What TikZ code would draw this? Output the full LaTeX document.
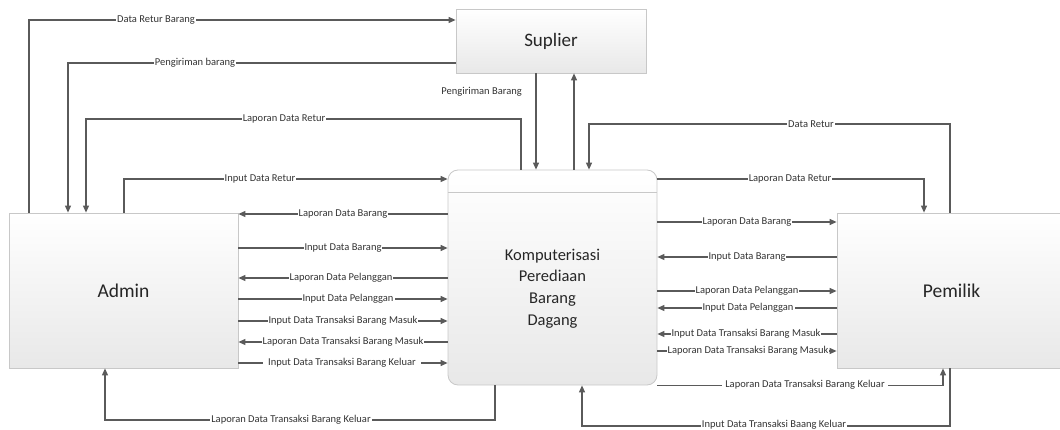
\documentclass[tikz,border=0pt]{standalone}
\usepackage{fontspec}
\setmainfont{Carlito}
\usetikzlibrary{arrows.meta}
\definecolor{ln}{HTML}{5A5A5A}
\definecolor{bd}{HTML}{C8C8C8}
\tikzset{
  ent/.style={draw=bd, line width=0.8pt, top color=white, bottom color=black!9, inner sep=0pt, text=black!85},
  flow/.style={draw=ln, line width=1.1pt, -{Triangle[length=7pt,width=6pt]}},
  plain/.style={draw=ln, line width=1.1pt},
  lbl/.style={fill=white, inner xsep=1pt, inner ysep=0.5pt, text=black!80, font=\fontsize{10.5}{12}\selectfont},
}
\begin{document}
\begin{tikzpicture}[x=1pt,y=-1pt]
\useasboundingbox (0,0) rectangle (1060,430);
% entities
\node[ent, minimum width=190, minimum height=64, font=\fontsize{19}{22}\selectfont] (sup) at (551,41) {Suplier};
\node[ent, minimum width=229, minimum height=155, font=\fontsize{19.5}{22}\selectfont] (admin) at (123.5,290.5) {Admin};
\node[ent, minimum width=229, minimum height=155, font=\fontsize{19.5}{22}\selectfont] (pem) at (951.5,290.5) {Pemilik};
\node[ent, rounded corners=10pt, minimum width=209, minimum height=215] (proc) at (552.5,277.5) {};
\draw[bd, line width=0.8pt] (proc.north west |- 0,192) -- (proc.north east |- 0,192);
\node[align=center, font=\fontsize{16.5}{21.7}\selectfont, text=black!85] (ptxt) at (552.5,288.5) {Komputerisasi\\Perediaan\\Barang\\Dagang};

% top-left flows
\draw[flow] (admin.north -| 29,0) |- (sup.west |- 0,20);
\node[lbl] (l1) at (156,20) {Data Retur Barang};
\draw[flow] (sup.west |- 0,63) -| (admin.north -| 68,0);
\node[lbl] (l2) at (195,63) {Pengiriman barang};
\draw[flow] (proc.north -| 521,0) -- (521,119) -| (admin.north -| 86,0);
\node[lbl] (l3) at (284,119) {Laporan Data Retur};
\draw[flow] (admin.north -| 124,0) |- (proc.west |- 0,179);
\node[lbl] (l4) at (260,179) {Input Data Retur};

% supplier <-> process
\draw[flow] (sup.south -| 536,0) -- (proc.north -| 536,0);
\node[lbl, anchor=east] (l5) at (523,92) {Pengiriman Barang};
\draw[flow] (proc.north -| 574,0) -- (sup.south -| 574,0);

% top-right flows
\draw[flow] (pem.north -| 950,0) -- (950,124) -| (proc.north -| 589,0);
\node[lbl] (l6) at (811,124) {Data Retur};
\draw[flow] (proc.east |- 0,179) -| (pem.north -| 924,0);
\node[lbl] (l7) at (790,179) {Laporan Data Retur};

% admin <-> process
\draw[flow] (proc.west |- 0,214) -- (admin.east |- 0,214);
\node[lbl] (a1) at (343,214) {Laporan Data Barang};
\draw[flow] (admin.east |- 0,248) -- (proc.west |- 0,248);
\node[lbl] (a2) at (343,248) {Input Data Barang};
\draw[flow] (proc.west |- 0,278) -- (admin.east |- 0,278);
\node[lbl] (a3) at (341,278) {Laporan Data Pelanggan};
\draw[flow] (admin.east |- 0,299) -- (proc.west |- 0,299);
\node[lbl] (a4) at (348,299) {Input Data Pelanggan};
\draw[flow] (admin.east |- 0,321) -- (proc.west |- 0,321);
\node[lbl] (a5) at (343,321) {Input Data Transaksi Barang Masuk};
\draw[flow] (proc.west |- 0,342) -- (admin.east |- 0,342);
\node[lbl] (a6) at (343,342) {Laporan Data Transaksi Barang Masuk};
\draw[flow] (admin.east |- 0,363) -- (proc.west |- 0,363);
\node[lbl, inner xsep=5pt] (a7) at (342,363) {Input Data Transaksi Barang Keluar};
\draw[flow] (proc.south -| 495,0) -- (495,420) -| (admin.south -| 105,0);
\node[lbl] (a8) at (291,420) {Laporan Data Transaksi Barang Keluar};

% process <-> pemilik
\draw[flow] (proc.east |- 0,222) -- (pem.west |- 0,222);
\node[lbl] (p1) at (747,222) {Laporan Data Barang};
\draw[flow] (pem.west |- 0,257) -- (proc.east |- 0,257);
\node[lbl] (p2) at (747,257) {Input Data Barang};
\draw[flow] (proc.east |- 0,291) -- (pem.west |- 0,291);
\node[lbl] (p3) at (747,291) {Laporan Data Pelanggan};
\draw[flow] (pem.west |- 0,308) -- (proc.east |- 0,308);
\node[lbl] (p4) at (748,308) {Input Data Pelanggan};
\draw[flow] (pem.west |- 0,334) -- (proc.east |- 0,334);
\node[lbl] (p5) at (746,334) {Input Data Transaksi Barang Masuk};
\draw[flow] (proc.east |- 0,351) -- (pem.west |- 0,351);
\node[lbl] (p6) at (748,351) {Laporan Data Transaksi Barang Masuk};
\draw[flow] (proc.south east) -| (pem.south -| 943,0);
\node[lbl, inner xsep=3pt] (p7) at (805,385) {Laporan Data Transaksi Barang Keluar};
\draw[flow] (pem.south -| 950,0) -- (950,426) -| (proc.south -| 582,0);
\node[lbl] (p8) at (774,424.5) {Input Data Transaksi Baang Keluar};
\end{tikzpicture}
\end{document}
